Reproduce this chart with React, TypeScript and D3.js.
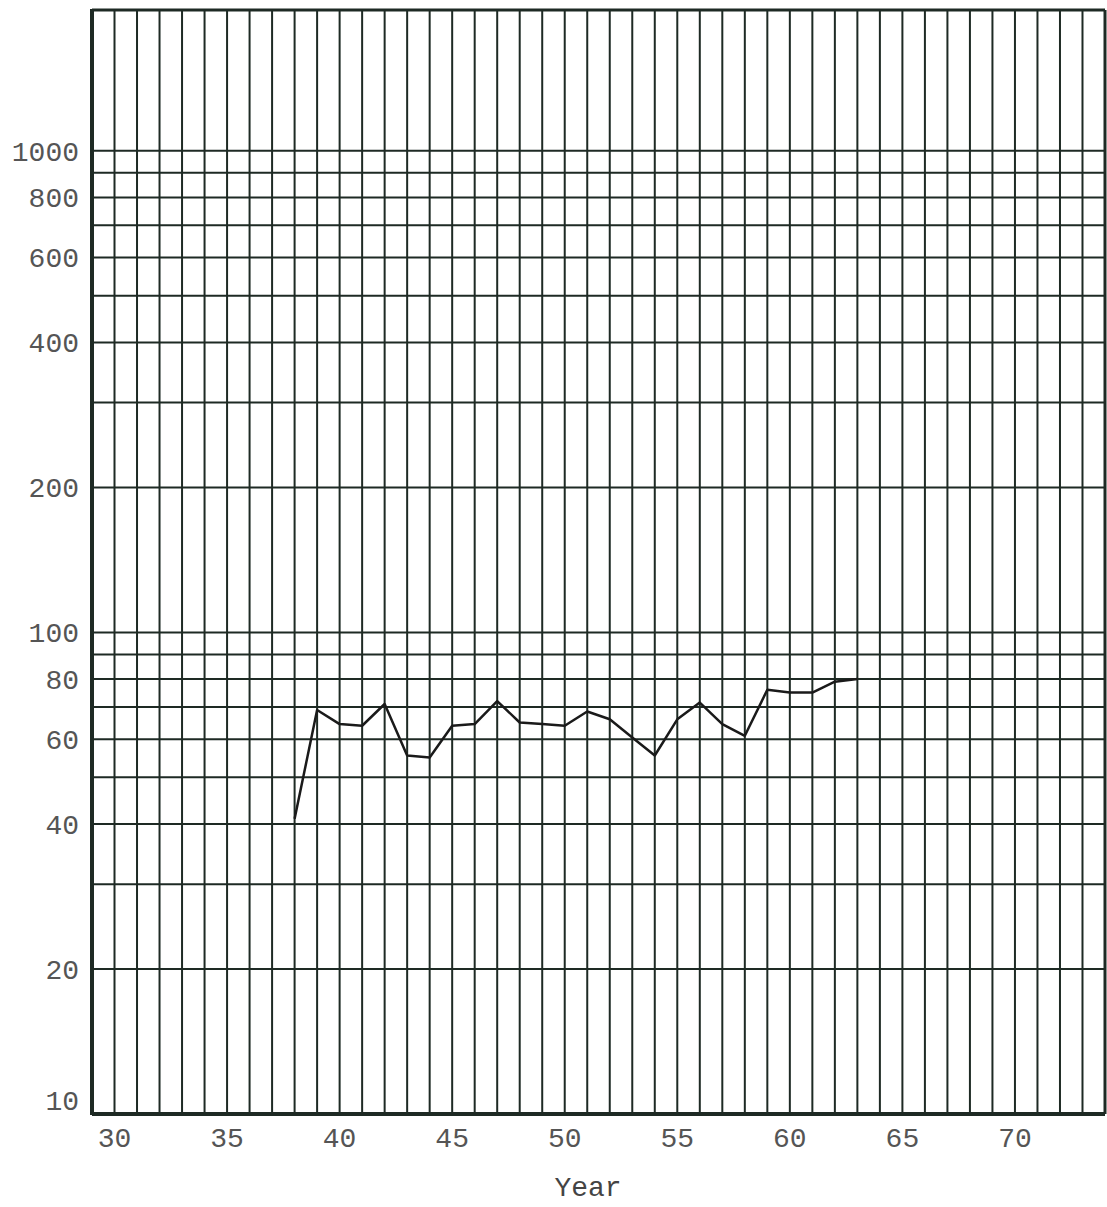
import React from "react";
import * as d3 from "d3";

const years = [38, 39, 40, 41, 42, 43, 44, 45, 46, 47, 48, 49, 50, 51, 52, 53, 54, 55, 56, 57, 58, 59, 60, 61, 62, 63];
const values = [41, 69, 64.5, 64, 71, 55.5, 55, 64, 64.5, 72, 65, 64.5, 64, 68.5, 66, 60.5, 55.5, 66, 71.5, 64.5, 61, 76, 75, 75, 79, 80];

const yTickLabels = [10, 20, 40, 60, 80, 100, 200, 400, 600, 800, 1000];
const yGridValues = [20, 30, 40, 50, 60, 70, 80, 90, 100, 200, 300, 400, 500, 600, 700, 800, 900, 1000];
const xTickLabels = [30, 35, 40, 45, 50, 55, 60, 65, 70];
const xGridYears = d3.range(30, 74);

const W = 1107;
const H = 1207;
const ink = "#1e2a24";
const labelColor = "#555";
const font = "'Liberation Mono', 'DejaVu Sans Mono', monospace";

const App = () => {
  const x = d3.scaleLinear().domain([29, 74]).range([92, 1105]);
  const y = d3.scaleLog().domain([10, 1960]).range([1114, 10]);

  const line = d3
    .line<number>()
    .x((d, i) => x(years[i]))
    .y((d) => y(d));

  const [x0, x1] = x.range();
  const [yb, yt] = y.range();

  return (
    <svg
      width={W}
      height={H}
      style={{ position: "absolute", left: 0, top: 0, background: "#fff" }}
    >
      {/* vertical grid, one per year */}
      {xGridYears.map((yr) => (
        <line key={"v" + yr} x1={x(yr)} x2={x(yr)} y1={yt} y2={yb} stroke={ink} strokeWidth={2} />
      ))}
      {/* horizontal grid */}
      {yGridValues.map((v) => (
        <line key={"h" + v} x1={x0} x2={x1} y1={y(v)} y2={y(v)} stroke={ink} strokeWidth={2} />
      ))}
      {/* frame */}
      <line x1={x0} x2={x0} y1={yt - 1} y2={yb + 1} stroke={ink} strokeWidth={4} />
      <line x1={x0} x2={x1} y1={yb} y2={yb} stroke={ink} strokeWidth={4} />
      <line x1={x0} x2={x1} y1={yt} y2={yt} stroke={ink} strokeWidth={3} />
      <line x1={x1} x2={x1} y1={yt} y2={yb} stroke={ink} strokeWidth={3} />

      {/* data */}
      <path d={line(values) || ""} fill="none" stroke="#1a1a1a" strokeWidth={2.5} strokeLinejoin="round" />

      {/* y labels */}
      {yTickLabels.map((v) => (
        <text
          key={"yl" + v}
          x={79}
          y={Math.min(y(v), yb - 14)}
          dy="0.35em"
          textAnchor="end"
          fontFamily={font}
          fontSize={28}
          fill={labelColor}
        >
          {v}
        </text>
      ))}
      {/* x labels */}
      {xTickLabels.map((v) => (
        <text
          key={"xl" + v}
          x={x(v)}
          y={yb + 23}
          dy="0.35em"
          textAnchor="middle"
          fontFamily={font}
          fontSize={28}
          fill={labelColor}
        >
          {v}
        </text>
      ))}
      <text
        x={588}
        y={1186}
        dy="0.35em"
        textAnchor="middle"
        fontFamily={font}
        fontSize={28}
        fill="#444"
      >
        Year
      </text>
    </svg>
  );
};

export default App;
